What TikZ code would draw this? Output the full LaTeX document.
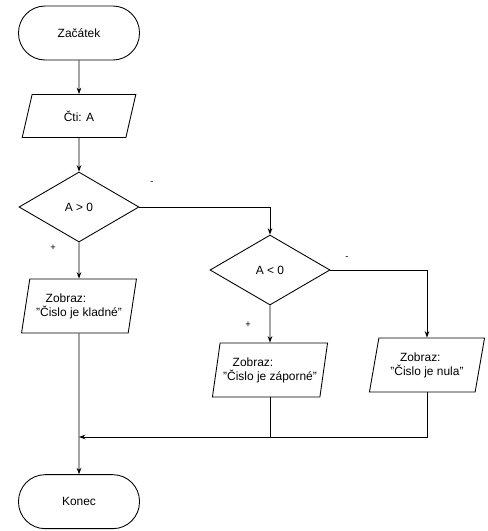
\documentclass[tikz,border=0pt]{standalone}
\usepackage{fontspec}
\setmainfont{Liberation Sans}
\usepackage{tikz}
\usetikzlibrary{shapes.geometric,arrows.meta}

\begin{document}
\begin{tikzpicture}[line width=0.75pt, font=\fontsize{10.2}{12}\selectfont, >={Stealth[length=5.5pt,width=4pt]}]
	\tikzstyle{term} = [draw, rounded corners=0.8cm, minimum width=3.63cm, minimum height=1.62cm]
	\tikzstyle{io} = [draw, trapezium, trapezium left angle=75, trapezium right angle=105, trapezium stretches=true, minimum width=3.48cm, minimum height=1.62cm, align=left, inner sep=1pt]
	\tikzstyle{test} = [draw, diamond, minimum width=3.6cm, minimum height=2.1cm, inner sep=0pt]
	\tikzstyle{edge} = [draw, ->]
	\tikzstyle{sign} = [font=\footnotesize]
	\useasboundingbox (0,0) rectangle (14.64,-15.93);
		\node[term] (start) at (2.37,-0.99) {Začátek};
		\node[io, minimum height=1.29cm, minimum width=3.42cm] (read) at (2.37,-3.48) {Čti: A};
		\node[test] (pos) at (2.37,-6.21) {A > 0};
		\node[io] (plus) at (2.37,-9.18) {\hspace{0.8em}Zobraz:\\"Čislo je kladné"};
		\node[test] (neg) at (8.10,-8.10) {A < 0};
		\node[io] (minus) at (8.10,-11.10) {\hspace{0.8em}Zobraz:\\"Čislo je záporné"};
		\node[io] (zero) at (12.81,-10.95) {\hspace{0.8em}Zobraz:\\"Čislo je nula"};
		\coordinate (join) at (2.37,-13.11);
		\node[term] (end) at (2.37,-15.05) {Konec};
	% vetve
		\node[sign] (yes1) at (1.59,-7.44) {+};
		\node[sign] (no1) at (4.56,-5.49) {-};
		\node[sign] (yes2) at (7.44,-9.75) {+};
		\node[sign] (no2) at (10.41,-7.74) {-};
	\draw[edge] (start) -- (read);
	\draw[edge] (read) -- (pos);
	\draw[edge] (pos.east) -| (neg.north);
	\draw[edge] (pos) -- (plus);
	\draw[edge] (neg) -- (minus);
	\draw[edge] (neg.east) -| (zero.north);
	\draw[edge] (plus) -- (end);
	\draw (minus.south) -- (minus.south |- join);
	\draw[edge] (zero.south) |- (join);
\end{tikzpicture}
\end{document}
